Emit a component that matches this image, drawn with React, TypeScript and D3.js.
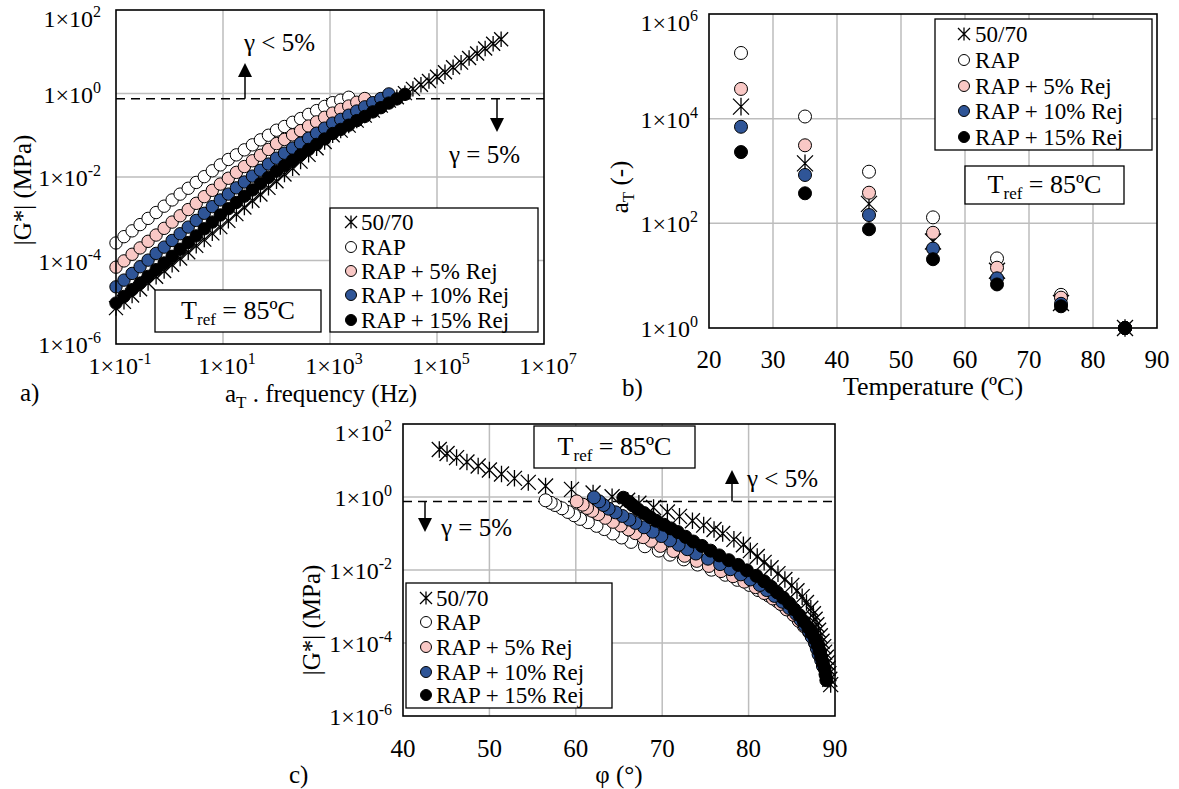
import React from 'react';
import * as d3 from 'd3';

const FONT = "'Liberation Serif', 'Times New Roman', Tinos, 'DejaVu Serif', serif";

// ---------- shared frequency grid (Hz, reduced by aT) ----------
const FREQ = [0.1, 0.141, 0.2, 0.282, 0.398, 0.562, 0.794, 1.12, 1.58, 2.24, 3.16, 4.47, 6.31, 8.91, 12.6, 17.8, 25.1, 35.5, 50.1, 70.8, 100, 141, 200, 282, 398, 562, 794, 1122, 1585, 2239, 3162, 4467, 6310, 8913, 12589, 17783, 25119, 35481, 50119, 70795, 1e5, 1.41e5, 2.0e5, 2.82e5, 3.98e5, 5.62e5, 7.94e5, 1.12e6, 1.58e6];

// ---------- |G*| (MPa) per binder ----------
const G_5070 = [7.24e-6, 1.02e-5, 1.45e-5, 2.04e-5, 2.88e-5, 4.07e-5, 5.62e-5, 7.94e-5, 1.12e-4, 1.58e-4, 2.24e-4, 3.16e-4, 4.47e-4, 6.31e-4, 8.91e-4, 1.29e-3, 1.86e-3, 2.69e-3, 3.8e-3, 5.5e-3, 7.94e-3, 1.15e-2, 1.62e-2, 2.34e-2, 3.39e-2, 4.9e-2, 6.92e-2, 0.1, 0.129, 0.17, 0.224, 0.295, 0.389, 0.513, 0.676, 0.813, 1.02, 1.29, 1.62, 2.0, 2.51, 3.24, 4.27, 5.5, 7.08, 9.12, 12.0, 15.5, 20.0];
const G_RAP = [2.63e-4, 3.72e-4, 5.13e-4, 7.24e-4, 1.02e-3, 1.41e-3, 2.0e-3, 2.82e-3, 3.89e-3, 5.37e-3, 7.41e-3, 1.02e-2, 1.41e-2, 1.95e-2, 2.63e-2, 3.39e-2, 4.47e-2, 5.89e-2, 7.76e-2, 0.1, 0.132, 0.162, 0.204, 0.251, 0.316, 0.389, 0.49, 0.603, 0.692, 0.813];
const G_REJ5 = [6.92e-5, 9.77e-5, 1.41e-4, 2.0e-4, 2.88e-4, 4.07e-4, 5.89e-4, 8.32e-4, 1.18e-3, 1.66e-3, 2.34e-3, 3.39e-3, 4.79e-3, 6.76e-3, 9.33e-3, 1.29e-2, 1.78e-2, 2.45e-2, 3.31e-2, 4.57e-2, 6.31e-2, 7.94e-2, 0.102, 0.129, 0.166, 0.209, 0.269, 0.339, 0.417, 0.501, 0.617, 0.759];
const G_REJ10 = [2.34e-5, 3.39e-5, 4.9e-5, 7.08e-5, 1.02e-4, 1.48e-4, 2.09e-4, 3.02e-4, 4.37e-4, 6.31e-4, 9.12e-4, 1.35e-3, 1.95e-3, 2.82e-3, 3.89e-3, 5.5e-3, 7.59e-3, 1.05e-2, 1.45e-2, 2.04e-2, 2.82e-2, 3.72e-2, 4.9e-2, 6.46e-2, 8.51e-2, 0.112, 0.148, 0.195, 0.24, 0.302, 0.38, 0.479, 0.603, 0.759, 0.977];
const G_REJ15 = [9.55e-6, 1.38e-5, 2.0e-5, 2.88e-5, 4.17e-5, 6.03e-5, 8.71e-5, 1.26e-4, 1.86e-4, 2.69e-4, 3.89e-4, 5.75e-4, 8.32e-4, 1.23e-3, 1.74e-3, 2.45e-3, 3.47e-3, 4.9e-3, 6.92e-3, 9.77e-3, 1.38e-2, 1.86e-2, 2.51e-2, 3.39e-2, 4.57e-2, 6.03e-2, 8.13e-2, 0.11, 0.138, 0.174, 0.224, 0.282, 0.363, 0.457, 0.589, 0.741, 0.955];

// ---------- phase angle (°) per binder ----------
const PHI_5070 = [89.5, 89.4, 89.3, 89.2, 89.1, 89.0, 88.8, 88.7, 88.5, 88.3, 88.1, 87.9, 87.7, 87.5, 87.2, 86.7, 86.2, 85.6, 85.0, 84.2, 83.4, 82.6, 81.8, 81.0, 80.2, 79.4, 78.3, 77.0, 76.0, 74.8, 73.5, 72.0, 70.6, 69.0, 67.3, 66.0, 64.2, 62.0, 59.5, 56.5, 54.5, 52.9, 51.4, 50.0, 48.7, 47.4, 46.2, 45.1, 44.2];
const PHI_RAP = [86.8, 86.2, 85.7, 85.0, 84.1, 83.3, 82.3, 81.1, 80.1, 78.7, 77.3, 75.7, 74.1, 72.5, 70.9, 69.6, 68.0, 66.4, 65.3, 64.3, 63.3, 62.4, 61.4, 60.5, 59.8, 59.1, 58.4, 57.6, 57.1, 56.5];
const PHI_REJ5 = [88.0, 87.7, 87.4, 87.0, 86.4, 85.8, 85.2, 84.4, 83.7, 82.8, 81.8, 80.8, 79.5, 78.2, 76.8, 75.4, 74.0, 72.6, 71.3, 69.8, 68.7, 67.8, 66.9, 66.1, 65.2, 64.3, 63.4, 62.6, 61.9, 61.3, 60.8, 60.1];
const PHI_REJ10 = [88.6, 88.4, 88.1, 87.9, 87.7, 87.3, 87.0, 86.5, 86.0, 85.5, 84.7, 83.9, 83.0, 82.1, 81.3, 80.2, 79.1, 77.9, 76.7, 75.3, 73.9, 72.9, 71.9, 70.9, 69.9, 68.9, 67.9, 66.9, 66.2, 65.4, 64.6, 63.8, 63.2, 62.7, 62.1];
const PHI_REJ15 = [89.0, 88.9, 88.8, 88.6, 88.4, 88.2, 88.0, 87.7, 87.3, 86.9, 86.4, 85.9, 85.3, 84.7, 84.0, 83.3, 82.6, 81.8, 80.9, 79.8, 78.8, 77.7, 76.6, 75.6, 74.6, 73.6, 72.7, 71.8, 71.0, 70.2, 69.3, 68.6, 67.9, 67.2, 66.6, 66.1, 65.5];

// ---------- shift factors aT vs temperature ----------
const TEMPS = [25, 35, 45, 55, 65, 75, 85];
const AT_5070 = [1.7e4, 1.4e3, 235, 45, 12.4, 3.0, 1];
const AT_RAP = [1.8e5, 1.1e4, 970, 130, 21.4, 4.3, 1];
const AT_REJ5 = [3.7e4, 3.1e3, 385, 66, 14.2, 3.8, 1];
const AT_REJ10 = [7.0e3, 840, 144, 33, 8.9, 2.9, 1];
const AT_REJ15 = [2.3e3, 375, 77, 20.6, 6.8, 2.6, 1];

// ---------- ticks ----------
const A_X_EXP = [-1, 1, 3, 5, 7];
const A_Y_EXP = [-6, -4, -2, 0, 2];
const B_X_TICKS = [20, 30, 40, 50, 60, 70, 80, 90];
const B_Y_EXP = [0, 2, 4, 6];
const C_X_TICKS = [40, 50, 60, 70, 80, 90];
const C_Y_EXP = [-6, -4, -2, 0, 2];
const STRAIN_LIMIT = 0.75;

const NAMES = ['50/70', 'RAP', 'RAP + 5% Rej', 'RAP + 10% Rej', 'RAP + 15% Rej'];
const FILLS = ['none', '#ffffff', '#F9C8C5', '#2F5597', '#000000'];
const KINDS = ['star', 'circle', 'circle', 'circle', 'circle'];

const G_ALL = [G_5070, G_RAP, G_REJ5, G_REJ10, G_REJ15];
const PHI_ALL = [PHI_5070, PHI_RAP, PHI_REJ5, PHI_REJ10, PHI_REJ15];
const AT_ALL = [AT_5070, AT_RAP, AT_REJ5, AT_REJ10, AT_REJ15];

const GRID = '#BDBDBD';
const FS = 25; // title / annotation size
const FT = 24; // tick size
const FL = 23; // legend size

function Mark({ kind, fill, x, y, r }: { kind: string; fill: string; x: number; y: number; r: number }) {
  if (kind === 'star') {
    const s = r;
    return (
      <path
        d={`M${x - s},${y - s}L${x + s},${y + s}M${x - s},${y + s}L${x + s},${y - s}M${x},${y - s * 1.1}L${x},${y + s * 1.1}`}
        stroke="#000"
        strokeWidth={1.3}
        fill="none"
      />
    );
  }
  return <circle cx={x} cy={y} r={r} fill={fill} stroke="#000" strokeWidth={1} />;
}

function Pow({ x, y, exp, anchor }: { x: number; y: number; exp: number; anchor: string }) {
  return (
    <text x={x} y={y} textAnchor={anchor as any} fontSize={FT} fill="#000">
      1×10<tspan dy={-10} fontSize={16}>{String(exp)}</tspan>
    </text>
  );
}

function Arrow({ x, y0, y1 }: { x: number; y0: number; y1: number }) {
  const dir = y1 < y0 ? -1 : 1;
  const hl = 14;
  const hw = 7;
  return (
    <g>
      <line x1={x} y1={y0} x2={x} y2={y1 - dir * hl} stroke="#000" strokeWidth={1.5} />
      <path d={`M${x},${y1}L${x - hw},${y1 - dir * hl}L${x + hw},${y1 - dir * hl}Z`} fill="#000" />
    </g>
  );
}

function Legend({ x, y, w, h, mx, tx, ys, r, s }: { x: number; y: number; w: number; h: number; mx: number; tx: number; ys: number[]; r: number; s: number }) {
  return (
    <g>
      <rect x={x} y={y} width={w} height={h} fill="#fff" stroke="#000" strokeWidth={1.3} />
      {NAMES.map((n, i) => (
        <g key={n}>
          <Mark kind={KINDS[i]} fill={FILLS[i]} x={mx} y={ys[i]} r={KINDS[i] === 'star' ? s : r} />
          <text x={tx} y={ys[i] + 8} fontSize={FL} fill="#000">{n}</text>
        </g>
      ))}
    </g>
  );
}

function TrefBox({ x, y, w, h }: { x: number; y: number; w: number; h: number }) {
  return (
    <g>
      <rect x={x} y={y} width={w} height={h} fill="#fff" stroke="#000" strokeWidth={1.3} />
      <text x={x + w / 2} y={y + h / 2 + 8} textAnchor="middle" fontSize={26} fill="#000">
        T<tspan dy={6} fontSize={17}>ref</tspan><tspan dy={-6}> = 85ºC</tspan>
      </text>
    </g>
  );
}

export default function App() {
  // panel a
  const xA = d3.scaleLog().domain([0.1, 1e7]).range([116, 544]);
  const yA = d3.scaleLog().domain([1e-6, 1e2]).range([344, 10]);
  // panel b
  const xB = d3.scaleLinear().domain([20, 90]).range([709, 1157]);
  const yB = d3.scaleLog().domain([1, 1e6]).range([328, 14]);
  // panel c
  const xC = d3.scaleLinear().domain([40, 90]).range([403, 835]);
  const yC = d3.scaleLog().domain([1e-6, 1e2]).range([716, 424]);

  const [ax0, ax1] = xA.range();
  const [ay0, ay1] = yA.range();
  const [bx0, bx1] = xB.range();
  const [by0, by1] = yB.range();
  const [cx0, cx1] = xC.range();
  const [cy0, cy1] = yC.range();

  const dashA = yA(STRAIN_LIMIT);
  const dashC = yC(STRAIN_LIMIT);

  const lblY = (g: number, top: number) => Math.max(g + 9, top + 17);

  return (
    <svg
      width={1179}
      height={789}
      style={{ position: 'absolute', left: 0, top: 0, background: '#fff', fontFamily: FONT }}
    >
      <rect x={0} y={0} width={1179} height={789} fill="#fff" />

      {/* ================= panel a ================= */}
      <g>
        {A_X_EXP.slice(1, -1).map((e) => (
          <line key={e} x1={xA(10 ** e)} x2={xA(10 ** e)} y1={ay0} y2={ay1} stroke={GRID} strokeWidth={1.5} />
        ))}
        {A_Y_EXP.slice(1, -1).map((e) => (
          <line key={e} x1={ax0} x2={ax1} y1={yA(10 ** e)} y2={yA(10 ** e)} stroke={GRID} strokeWidth={1.5} />
        ))}
        <line x1={ax0} x2={ax1} y1={dashA} y2={dashA} stroke="#000" strokeWidth={1.6} strokeDasharray="9,6" />
        {G_ALL.map((G, si) => (
          <g key={si}>
            {G.map((g, i) => (
              <Mark key={i} kind={KINDS[si]} fill={FILLS[si]} x={xA(FREQ[i])} y={yA(g)} r={KINDS[si] === 'star' ? 7 : 6.2} />
            ))}
          </g>
        ))}
        <rect x={ax0} y={ay1} width={ax1 - ax0} height={ay0 - ay1} fill="none" stroke="#000" strokeWidth={1.6} />
        {A_Y_EXP.map((e) => (
          <Pow key={e} x={101} y={lblY(yA(10 ** e), ay1)} exp={e} anchor="end" />
        ))}
        {A_X_EXP.map((e) => (
          <Pow key={e} x={xA(10 ** e) + 4} y={374} exp={e} anchor="middle" />
        ))}
        <Arrow x={245} y0={dashA} y1={63} />
        <text x={244} y={51} fontSize={FS} fill="#000">γ &lt; 5%</text>
        <Arrow x={497} y0={dashA} y1={132} />
        <text x={449} y={163} fontSize={FS} fill="#000">γ = 5%</text>
        <Legend x={330} y={208} w={208} h={124} mx={351} tx={361} ys={[222, 247, 271, 295, 320]} r={5.5} s={6} />
        <TrefBox x={155} y={290} w={166} h={42} />
        <text transform="translate(31,190) rotate(-90)" textAnchor="middle" fontSize={25} fill="#000">|G*|  (MPa)</text>
        <text x={321} y={402} textAnchor="middle" fontSize={FS} fill="#000">
          a<tspan dy={6} fontSize={17}>T</tspan><tspan dy={-6}> . frequency (Hz)</tspan>
        </text>
        <text x={20} y={401} fontSize={FS} fill="#000">a)</text>
      </g>

      {/* ================= panel b ================= */}
      <g>
        {B_X_TICKS.slice(1, -1).map((t) => (
          <line key={t} x1={xB(t)} x2={xB(t)} y1={by0} y2={by1} stroke={GRID} strokeWidth={1.5} />
        ))}
        {B_Y_EXP.slice(1, -1).map((e) => (
          <line key={e} x1={bx0} x2={bx1} y1={yB(10 ** e)} y2={yB(10 ** e)} stroke={GRID} strokeWidth={1.5} />
        ))}
        {AT_ALL.map((A, si) => (
          <g key={si}>
            {A.map((a, i) => (
              <Mark key={i} kind={KINDS[si]} fill={FILLS[si]} x={xB(TEMPS[i])} y={yB(a)} r={KINDS[si] === 'star' ? 8 : 6.5} />
            ))}
          </g>
        ))}
        <rect x={bx0} y={by1} width={bx1 - bx0} height={by0 - by1} fill="none" stroke="#000" strokeWidth={1.6} />
        {B_Y_EXP.map((e) => (
          <Pow key={e} x={698} y={lblY(yB(10 ** e), by1)} exp={e} anchor="end" />
        ))}
        {B_X_TICKS.map((t) => (
          <text key={t} x={xB(t)} y={368} textAnchor="middle" fontSize={25} fill="#000">{t}</text>
        ))}
        <Legend x={935} y={19} w={217} h={131} mx={964} tx={975} ys={[34, 60, 86, 111, 137]} r={5.5} s={6} />
        <TrefBox x={965} y={166} w={159} h={38} />
        <text transform="translate(628,187) rotate(-90)" textAnchor="middle" fontSize={FS} fill="#000">
          a<tspan dy={6} fontSize={17}>T</tspan><tspan dy={-6}> (-)</tspan>
        </text>
        <text x={933} y={395} textAnchor="middle" fontSize={26} fill="#000">Temperature (ºC)</text>
        <text x={622} y={396} fontSize={FS} fill="#000">b)</text>
      </g>

      {/* ================= panel c ================= */}
      <g>
        {C_X_TICKS.slice(1, -1).map((t) => (
          <line key={t} x1={xC(t)} x2={xC(t)} y1={cy0} y2={cy1} stroke={GRID} strokeWidth={1.5} />
        ))}
        {C_Y_EXP.slice(1, -1).map((e) => (
          <line key={e} x1={cx0} x2={cx1} y1={yC(10 ** e)} y2={yC(10 ** e)} stroke={GRID} strokeWidth={1.5} />
        ))}
        <line x1={cx0} x2={cx1} y1={dashC} y2={dashC} stroke="#000" strokeWidth={1.6} strokeDasharray="9,6" />
        {G_ALL.map((G, si) => (
          <g key={si}>
            {G.map((g, i) => (
              <Mark key={i} kind={KINDS[si]} fill={FILLS[si]} x={xC(PHI_ALL[si][i])} y={yC(g)} r={KINDS[si] === 'star' ? 7.5 : 6.5} />
            ))}
          </g>
        ))}
        <rect x={cx0} y={cy1} width={cx1 - cx0} height={cy0 - cy1} fill="none" stroke="#000" strokeWidth={1.6} />
        {C_Y_EXP.map((e) => (
          <Pow key={e} x={392} y={lblY(yC(10 ** e), cy1)} exp={e} anchor="end" />
        ))}
        {C_X_TICKS.map((t) => (
          <text key={t} x={xC(t)} y={757} textAnchor="middle" fontSize={25} fill="#000">{t}</text>
        ))}
        <TrefBox x={534} y={426} w={161} h={42} />
        <Arrow x={732} y0={dashC} y1={470} />
        <text x={747} y={487} fontSize={FS} fill="#000">γ &lt; 5%</text>
        <Arrow x={425} y0={dashC} y1={532} />
        <text x={441} y={536} fontSize={FS} fill="#000">γ = 5%</text>
        <Legend x={406} y={583} w={206} h={125} mx={426} tx={436} ys={[598, 622, 647, 672, 695]} r={5.5} s={6} />
        <text transform="translate(320,620) rotate(-90)" textAnchor="middle" fontSize={25} fill="#000">|G*|  (MPa)</text>
        <text x={619} y={783} textAnchor="middle" fontSize={FS} fill="#000">φ (°)</text>
        <text x={289} y={783} fontSize={FS} fill="#000">c)</text>
      </g>
    </svg>
  );
}
